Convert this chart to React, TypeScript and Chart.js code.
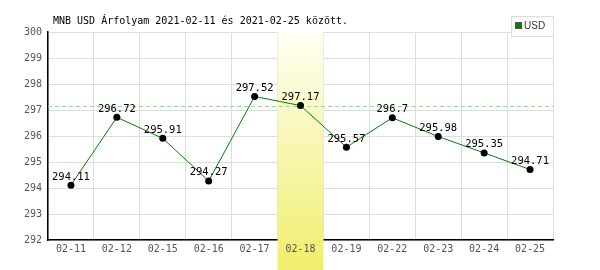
import React, { useEffect, useRef } from "react";
import { Chart, registerables } from "chart.js";

Chart.register(...registerables);

const categories = ["02-11", "02-12", "02-15", "02-16", "02-17", "02-18", "02-19", "02-22", "02-23", "02-24", "02-25"];
const usdValues = [294.11, 296.72, 295.91, 294.27, 297.52, 297.17, 295.57, 296.7, 295.98, 295.35, 294.71];
const yTicks = [292, 293, 294, 295, 296, 297, 298, 299, 300];
const referenceLevel = 297.15;
const highlightIndex = 5;
const titleText = "MNB USD Árfolyam 2021-02-11 és 2021-02-25 között.";
const seriesName = "USD";

const MONO = "'DejaVu Sans Mono', monospace";

const overlayPlugin = {
  id: "overlay",
  beforeDatasetsDraw(chart: any) {
    const { ctx, chartArea, scales } = chart;
    const x = scales.x;
    const y = scales.y;
    const step = x.getPixelForValue(1) - x.getPixelForValue(0);
    const cx = x.getPixelForValue(highlightIndex);
    const left = cx - step / 2;
    ctx.save();
    const g = ctx.createLinearGradient(0, chartArea.top, 0, chart.height);
    g.addColorStop(0, "#fffff4");
    g.addColorStop(1, "#f0ee6c");
    ctx.fillStyle = g;
    ctx.fillRect(left, chartArea.top, step, chart.height - chartArea.top);
    // dashed reference line
    const ry = Math.round(y.getPixelForValue(referenceLevel)) + 0.5;
    ctx.strokeStyle = "#99d899";
    ctx.lineWidth = 1;
    ctx.setLineDash([4, 3]);
    ctx.beginPath();
    ctx.moveTo(chartArea.left, ry);
    ctx.lineTo(chartArea.right, ry);
    ctx.stroke();
    ctx.restore();
  },
  afterDatasetsDraw(chart: any) {
    const { ctx, scales } = chart;
    ctx.save();
    ctx.fillStyle = "#000";
    ctx.font = "10.5px " + MONO;
    ctx.textAlign = "center";
    ctx.textBaseline = "bottom";
    usdValues.forEach((v, i) => {
      const px = scales.x.getPixelForValue(i);
      const py = scales.y.getPixelForValue(v);
      ctx.fillText(String(v), px, py - 3);
    });
    // title
    ctx.textAlign = "left";
    ctx.textBaseline = "middle";
    ctx.font = "10px " + MONO;
    ctx.fillText(titleText, 53, 21);
    // legend
    ctx.fillStyle = "#fff";
    ctx.fillRect(511, 16, 42, 20);
    ctx.strokeStyle = "#dddddd";
    ctx.lineWidth = 1;
    ctx.strokeRect(511.5, 16.5, 42, 20);
    ctx.fillStyle = "#008000";
    ctx.fillRect(516, 23, 6, 6);
    ctx.strokeStyle = "#555";
    ctx.strokeRect(515.5, 22.5, 6, 6);
    ctx.fillStyle = "#333";
    ctx.font = "10px 'Liberation Sans Narrow', 'Liberation Sans', sans-serif";
    ctx.fillText(seriesName, 524, 26.5);
    ctx.restore();
  },
};

export default function App() {
  const ref = useRef<HTMLCanvasElement | null>(null);
  useEffect(() => {
    document.body.style.margin = "0";
    const canvas = ref.current;
    if (!canvas) return;
    const chart = new Chart(canvas, {
      type: "line",
      data: {
        labels: categories,
        datasets: [
          {
            label: seriesName,
            data: usdValues,
            borderColor: "#008000",
            borderWidth: 1,
            pointBackgroundColor: "#000",
            pointBorderColor: "#000",
            pointRadius: 3.5,
            pointBorderWidth: 0,
            tension: 0,
            fill: false,
          },
        ],
      },
      options: {
        responsive: false,
        animation: false,
        devicePixelRatio: 1,
        layout: { padding: { top: 32, right: 47, left: 0, bottom: 0 } },
        plugins: {
          legend: { display: false },
          title: { display: false },
          tooltip: { enabled: false },
        },
        scales: {
          x: {
            type: "category",
            offset: true,
            afterFit: (s: any) => {
              s.height = 30;
            },
            grid: {
              offset: true,
              color: "#dddddd",
              drawTicks: false,
            },
            border: { color: "#000", width: 1.5 },
            ticks: {
              color: "#555",
              font: { family: MONO, size: 10 },
              padding: 3,
              maxRotation: 0,
              autoSkip: false,
              z: 1,
            },
          },
          y: {
            min: 292,
            max: 300,
            afterFit: (s: any) => {
              s.width = 48;
            },
            afterBuildTicks: (s: any) => {
              s.ticks = yTicks.map((v) => ({ value: v }));
            },
            grid: { color: "#dddddd", drawTicks: false },
            border: { color: "#000", width: 1.5 },
            ticks: {
              color: "#555",
              font: { family: MONO, size: 10 },
              padding: 6,
            },
          },
        },
      },
      plugins: [overlayPlugin],
    });
    return () => chart.destroy();
  }, []);
  return (
    <div style={{ width: 600, height: 270 }}>
      <canvas ref={ref} width={600} height={270} style={{ width: 600, height: 270, display: "block" }} />
    </div>
  );
}
